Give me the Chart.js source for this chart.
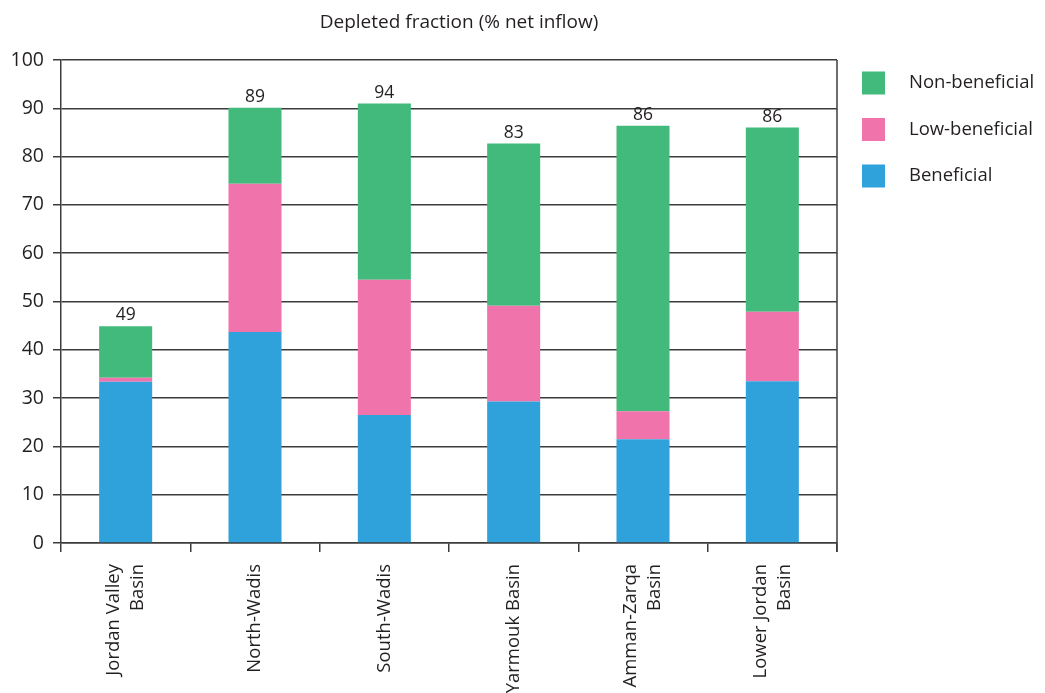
<!DOCTYPE html>
<html>
<head>
<meta charset="utf-8">
<script src="https://cdn.jsdelivr.net/npm/chart.js@4.4.1/dist/chart.umd.min.js"></script>
<style>
  html, body { margin: 0; padding: 0; background: #fff; }
  #wrap { width: 1045px; height: 693px; position: relative; }
</style>
</head>
<body>
<div id="wrap"><canvas id="depletedChart"></canvas></div>
<script>
const basins = [['Jordan Valley', 'Basin'], 'North-Wadis', 'South-Wadis', 'Yarmouk Basin', ['Amman-Zarqa', 'Basin'], ['Lower Jordan', 'Basin']];
const beneficial = [33.4, 43.7, 26.5, 29.3, 21.5, 33.5];
const lowBeneficial = [0.8, 30.7, 28.0, 19.8, 5.8, 14.4];
const nonBeneficial = [10.7, 15.7, 36.5, 33.6, 59.1, 38.1];
const totalLabels = ['49', '89', '94', '83', '86', '86'];
const yTicks = [0, 10, 20, 30, 40, 50, 60, 70, 80, 90, 100];

const FONT = "'Open Sans', 'Noto Sans', sans-serif";
const INK = '#231f20';
const GRID = '#3c3c3c';

// totals above bars, category labels, title, right border and legend
const decorations = {
    id: 'decorations',
    afterDatasetsDraw(chart) {
        const { ctx, chartArea, scales } = chart;
        ctx.save();
        ctx.fillStyle = INK;
        ctx.font = `17.5px ${FONT}`;
        ctx.textAlign = 'center';
        ctx.textBaseline = 'bottom';
        totalLabels.forEach((txt, i) => {
            const top = beneficial[i] + lowBeneficial[i] + nonBeneficial[i];
            ctx.fillText(txt, scales.x.getPixelForValue(i), scales.y.getPixelForValue(top) - 2);
        });

        // rotated category labels, centred on the category as a block
        ctx.font = `18.5px ${FONT}`;
        ctx.textAlign = 'right';
        ctx.textBaseline = 'middle';
        const lineH = 24;
        basins.forEach((lab, i) => {
            const lines = Array.isArray(lab) ? lab : [lab];
            const cx = scales.x.getPixelForValue(i);
            lines.forEach((line, k) => {
                const x = cx + (k - (lines.length - 1) / 2) * lineH;
                ctx.save();
                ctx.translate(x, chartArea.bottom + 21);
                ctx.rotate(-Math.PI / 2);
                ctx.fillText(line, 0, 0);
                ctx.restore();
            });
        });

        // right border of the plot
        ctx.strokeStyle = GRID;
        ctx.lineWidth = 1.5;
        ctx.beginPath();
        ctx.moveTo(chartArea.right, chartArea.top);
        ctx.lineTo(chartArea.right, chartArea.bottom + 9);
        ctx.stroke();

        // title
        ctx.font = `19px ${FONT}`;
        ctx.textAlign = 'center';
        ctx.textBaseline = 'alphabetic';
        ctx.fillText('Depleted fraction (% net inflow)', (chartArea.left + chartArea.right) / 2 + 10, 28);

        // legend, top item first
        const items = chart.data.datasets.slice().reverse();
        ctx.textAlign = 'left';
        ctx.textBaseline = 'middle';
        ctx.font = `18.5px ${FONT}`;
        items.forEach((ds, i) => {
            const cy = chartArea.top + 23 + i * 46.5;
            ctx.fillStyle = ds.backgroundColor;
            ctx.fillRect(chartArea.right + 25, cy - 11.5, 23, 23);
            ctx.fillStyle = INK;
            ctx.fillText(ds.label, chartArea.right + 72, cy);
        });
        ctx.restore();
    }
};

const ctx = document.getElementById('depletedChart').getContext('2d');
new Chart(ctx, {
    type: 'bar',
    data: {
        labels: basins,
        datasets: [
            { label: 'Beneficial', data: beneficial, backgroundColor: '#2fa2db' },
            { label: 'Low-beneficial', data: lowBeneficial, backgroundColor: '#f073ab' },
            { label: 'Non-beneficial', data: nonBeneficial, backgroundColor: '#41ba7b' }
        ]
    },
    options: {
        responsive: true,
        maintainAspectRatio: false,
        animation: false,
        datasets: { bar: { categoryPercentage: 1, barPercentage: 0.41 } },
        layout: { padding: { top: 60, right: 208, left: 0, bottom: 0 } },
        plugins: { legend: { display: false }, tooltip: { enabled: false } },
        scales: {
            x: {
                stacked: true,
                grid: { offset: true, drawOnChartArea: false, color: GRID, lineWidth: 1.5, tickLength: 9 },
                border: { color: GRID, width: 1.5 },
                ticks: { display: false },
                afterFit(scale) { scale.height = 150; }
            },
            y: {
                stacked: true,
                min: 0, max: 100,
                afterBuildTicks(scale) { scale.ticks = yTicks.map(v => ({ value: v })); },
                grid: { color: GRID, lineWidth: 1.5, tickLength: 8 },
                border: { color: GRID, width: 1.5 },
                ticks: {
                    color: INK,
                    font: { family: FONT, size: 19.5 },
                    padding: 9
                },
                afterFit(scale) { scale.width = 61; }
            }
        }
    },
    plugins: [decorations]
});
</script>
</body>
</html>
